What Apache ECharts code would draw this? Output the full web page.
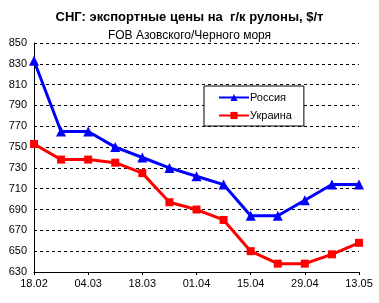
<!DOCTYPE html>
<html><head><meta charset="utf-8">
<script src="https://cdn.jsdelivr.net/npm/echarts@6/dist/echarts.min.js"></script>
<style>html,body{margin:0;padding:0;background:#fff}#c{width:379px;height:303px}</style>
</head><body><div id="c"></div>
<script>
var categories = ['18.02','25.02','04.03','11.03','18.03','25.03','01.04','08.04','15.04','22.04','29.04','06.05','13.05'];
var russia = [833, 765, 765, 750, 740, 730, 722, 714, 684, 684, 699, 714, 714];
var ukraine = [753, 738, 738, 735, 725, 697, 690, 680, 650, 638, 638, 647, 658];
var yTicks = [630, 850, 20];
var F = '"Liberation Sans", Arial, sans-serif';
var chart = echarts.init(document.getElementById('c'));
chart.setOption({
  animation: false,
  backgroundColor: '#fff',
  title: [
    {text: 'СНГ: экспортные цены на  г/к рулоны, $/т', left: 'center', top: 6,
     textStyle: {fontFamily: F, fontSize: 13, fontWeight: 'bold', color: '#000'}},
    {text: 'FOB Азовского/Черного моря', left: 'center', top: 25,
     textStyle: {fontFamily: F, fontSize: 12, fontWeight: 'normal', color: '#000'}}
  ],
  grid: {left: 34, right: 20, top: 43, bottom: 31},
  legend: {
    orient: 'vertical', left: 204, top: 86,
    padding: [6, 12, 5, 14], itemGap: 7,
    borderColor: '#000', borderWidth: 1, backgroundColor: '#fff',
    itemWidth: 30, itemHeight: 9,
    textStyle: {fontFamily: F, fontSize: 11, color: '#000', padding: [0,0,0,-4]},
    data: ['Россия', 'Украина']
  },
  xAxis: {
    type: 'category', boundaryGap: false, data: categories,
    axisLine: {lineStyle: {color: '#000', width: 1}},
    axisTick: {show: true, interval: 1, length: 3, inside: false, lineStyle: {color: '#000'}},
    axisLabel: {interval: 1, fontFamily: F, fontSize: 11, color: '#000', margin: 6},
    splitLine: {show: false}
  },
  yAxis: {
    type: 'value', min: yTicks[0], max: yTicks[1], interval: yTicks[2],
    axisLine: {show: true, lineStyle: {color: '#000', width: 1}},
    axisTick: {show: false},
    axisLabel: {fontFamily: F, fontSize: 11, color: '#000', margin: 7},
    splitLine: {show: true, lineStyle: {color: '#000', type: [3, 3], width: 1}}
  },
  series: [
    {name: 'Россия', type: 'line', data: russia, symbol: 'triangle', symbolSize: 10,
     lineStyle: {color: '#0000ff', width: 3}, itemStyle: {color: '#0000ff'}},
    {name: 'Украина', type: 'line', data: ukraine, symbol: 'rect', symbolSize: 8,
     lineStyle: {color: '#ff0000', width: 3}, itemStyle: {color: '#ff0000'}}
  ]
});
</script></body></html>
